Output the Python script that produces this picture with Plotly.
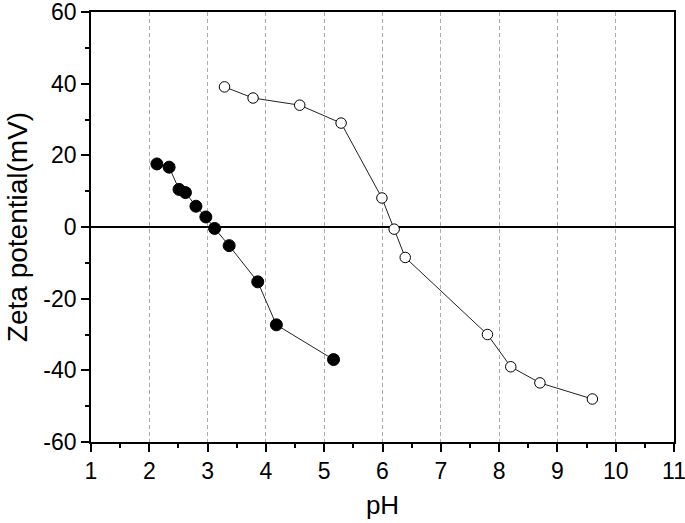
import plotly.graph_objects as go

ph_filled = [2.13, 2.34, 2.51, 2.62, 2.80, 2.97, 3.12, 3.37, 3.86, 4.18, 5.16]
zeta_filled = [17.6, 16.7, 10.5, 9.6, 5.8, 2.8, -0.4, -5.2, -15.3, -27.3, -37.0]

ph_open = [3.29, 3.78, 4.58, 5.29, 5.99, 6.20, 6.39, 7.80, 8.20, 8.70, 9.60]
zeta_open = [39.1, 36.0, 34.0, 29.0, 8.1, -0.6, -8.5, -30.0, -39.0, -43.5, -48.0]

x_ticks = list(range(1, 12))
y_ticks = [-60, -40, -20, 0, 20, 40, 60]

fig = go.Figure()
fig.add_trace(go.Scatter(
    x=ph_filled, y=zeta_filled, mode="lines+markers",
    line=dict(color="#222222", width=1),
    marker=dict(symbol="circle", size=12, color="black", line=dict(color="black", width=1)),
    showlegend=False))
fig.add_trace(go.Scatter(
    x=ph_open, y=zeta_open, mode="lines+markers",
    line=dict(color="#222222", width=1),
    marker=dict(symbol="circle", size=10.5, color="white", line=dict(color="black", width=1)),
    showlegend=False))

font = "Liberation Sans, Arial, sans-serif"
fig.update_layout(
    width=685, height=523,
    margin=dict(l=91, r=11, t=12, b=81),
    paper_bgcolor="white", plot_bgcolor="white",
    font=dict(family=font, color="black", size=23),
    xaxis=dict(
        range=[1, 11], tickvals=x_ticks, ticktext=[str(v) for v in x_ticks],
        automargin=False, ticklabeloverflow="allow",
        showline=True, linecolor="black", linewidth=1.6, mirror=True,
        ticks="outside", ticklen=8, tickwidth=1.6, tickcolor="black",
        minor=dict(ticks="outside", dtick=0.5, tick0=1, ticklen=4, tickwidth=1.6, tickcolor="black", showgrid=False),
        showgrid=True, gridcolor="#aaaaaa", gridwidth=1, griddash="4px,3px",
        zeroline=False,
        title=dict(text="pH", font=dict(size=26), standoff=12),
        tickfont=dict(size=23),
    ),
    yaxis=dict(
        range=[-60, 60], tickvals=y_ticks, ticktext=[str(v) for v in y_ticks],
        automargin=False, ticklabeloverflow="allow",
        showline=True, linecolor="black", linewidth=1.6, mirror=True,
        ticks="outside", ticklen=8, tickwidth=1.6, tickcolor="black",
        minor=dict(ticks="outside", dtick=10, tick0=0, ticklen=4, tickwidth=1.6, tickcolor="black", showgrid=False),
        showgrid=False,
        zeroline=True, zerolinecolor="black", zerolinewidth=1.6,
        title=dict(text="Zeta potential(mV)", font=dict(size=28), standoff=8),
        tickfont=dict(size=23),
    ),
)

fig.write_html("out.html", config={"displayModeBar": False},
               post_script="document.body.style.margin='0';document.body.style.overflow='hidden';")
